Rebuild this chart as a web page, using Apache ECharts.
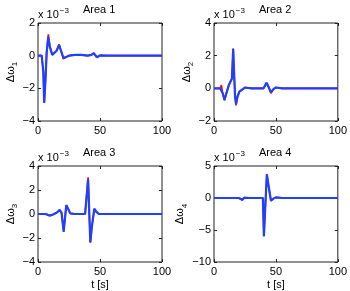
<!DOCTYPE html>
<html><head><meta charset="utf-8">
<script src="https://cdn.jsdelivr.net/npm/echarts@6/dist/echarts.min.js"></script>
<style>html,body{margin:0;padding:0;background:#fff}#c{width:350px;height:291px}</style>
</head><body><div id="c"></div>
<script>
// values in units of 1e-3
var titles = ['Area 1', 'Area 2', 'Area 3', 'Area 4'];
var ySubs = ['1', '2', '3', '4'];
var yMins = [-4, -2, -4, -10];
var yMaxs = [2, 4, 4, 5];
var yIntervals = [2, 2, 2, 5];
var xTicks = [0, 50, 100];

var t1 = [0, 3, 4.3, 5, 6, 7, 8.3, 9.5, 11.5, 13, 15, 17, 18, 19.5, 20.5, 22, 25, 30, 35, 40, 43, 45, 47.5, 50, 55, 100];
var blue1 = [0, 0, -1.0, -2.9, -1.5, 0.2, 1.15, 0.55, 0.05, 0.1, 0.3, 0.65, 0.6, 0.1, -0.15, -0.1, 0.0, 0.05, 0.05, 0.0, 0.05, 0.15, -0.1, 0.02, 0, 0];
var red1 = [0, 0, -1.0, -2.85, -1.5, 0.25, 1.3, 0.6, 0.05, 0.1, 0.3, 0.7, 0.6, 0.05, -0.2, -0.1, 0.0, 0.05, 0.05, 0.0, 0.05, 0.15, -0.1, 0.02, 0, 0];

var t2 = [0, 5, 6, 7, 8.5, 10, 12, 13.5, 14.5, 15.5, 16, 17, 17.8, 19, 20.5, 22, 25, 30, 35, 40, 42.5, 44, 46, 48, 50, 55, 100];
var blue2 = [0, 0, 0.05, -0.3, -0.7, -0.3, 0.2, 0.1, 0.6, 2.4, 1.4, -0.5, -0.95, -0.5, -0.2, -0.1, 0.05, 0.0, 0.0, 0.0, 0.35, 0.1, -0.25, -0.05, 0.05, 0, 0];
var red2 = [0, 0, 0.2, -0.3, -0.75, -0.3, 0.2, 0.1, 0.6, 2.45, 1.4, -0.5, -1.05, -0.5, -0.2, -0.1, 0.05, 0.0, 0.0, 0.0, 0.3, 0.1, -0.3, -0.05, 0.05, 0, 0];

var t3 = [0, 6, 7.5, 9.5, 12, 15, 17.5, 19, 20.7, 22.8, 24, 26, 30, 38, 39.5, 40.4, 41.3, 42.2, 43.5, 45.4, 47, 49, 55, 100];
var blue3 = [0, 0, 0.05, -0.15, -0.05, 0.1, 0.35, 0.1, -1.5, 0.75, 0.5, 0.05, 0, 0, 0, 2.9, 0.2, -2.35, -1.0, 0.45, 0.2, 0, 0, 0];
var red3 = [0, 0, 0.15, -0.1, -0.05, 0.1, 0.3, 0.1, -1.4, 0.7, 0.5, 0.05, 0, 0, 0, 3.05, 0.2, -2.4, -1.0, 0.3, 0.2, 0, 0, 0];

var t4 = [0, 15, 20, 22.8, 24.5, 26, 28, 35, 39.5, 40.3, 41.5, 42.7, 44, 46, 48, 50, 55, 100];
var blue4 = [0, 0, 0, -0.25, 0.05, 0.1, 0, 0, 0, -6.0, -1.0, 3.7, 2.0, -0.4, -0.1, 0.1, 0, 0];
var red4 = [0, 0, 0, -0.35, 0.0, 0.1, 0, 0, 0, -5.9, -1.0, 3.75, 2.0, -0.45, -0.1, 0.1, 0, 0];

var times = [t1, t2, t3, t4];
var blues = [blue1, blue2, blue3, blue4];
var reds = [red1, red2, red3, red4];

var grids = [
  {left: 38, top: 23, width: 124, height: 98},
  {left: 214, top: 23, width: 124, height: 98},
  {left: 38, top: 166, width: 124, height: 97},
  {left: 214, top: 166, width: 124, height: 97}
];
var FONT = 'Liberation Sans, Arial, sans-serif';
function pairs(t, v) { return t.map(function (x, i) { return [x, v[i]]; }); }
function minusFmt(v) { return String(v).replace('-', '\u2212'); }
var tickStyle = {show: true, inside: true, length: 3, lineStyle: {color: '#222'}};
var noLine = {show: false, onZero: false};

var xAxes = [], yAxes = [], series = [], graphics = [];
grids.forEach(function (g, i) {
  g.show = true; g.borderColor = '#222'; g.borderWidth = 1; g.containLabel = false;
  var bottom = i >= 2;
  xAxes.push({
    gridIndex: i, type: 'value', position: 'bottom', min: xTicks[0], max: xTicks[2], interval: xTicks[1] - xTicks[0],
    axisLine: noLine, splitLine: {show: false}, axisTick: tickStyle,
    axisLabel: {color: '#000', fontSize: 11, fontFamily: FONT, margin: 4, formatter: minusFmt},
    name: bottom ? 't [s]' : '', nameLocation: 'middle', nameGap: 17,
    nameTextStyle: {color: '#000', fontSize: 11, fontFamily: FONT}
  });
  yAxes.push({
    gridIndex: i, type: 'value', position: 'left', min: yMins[i], max: yMaxs[i], interval: yIntervals[i],
    axisLine: noLine, splitLine: {show: false}, axisTick: tickStyle,
    axisLabel: {color: '#000', fontSize: 11, fontFamily: FONT, margin: 3, formatter: minusFmt},
    name: '{a|\u0394\u03c9}{s|' + ySubs[i] + '}', nameLocation: 'middle', nameGap: i === 3 ? 21 : 17,
    nameTextStyle: {color: '#000', fontFamily: FONT,
      rich: {a: {fontSize: 11, fontFamily: FONT, color: '#000', lineHeight: 14},
             s: {fontSize: 8, fontFamily: FONT, color: '#000', lineHeight: 14, padding: [8, 0, 0, 0]}}}
  });
  series.push({
    type: 'line', xAxisIndex: i, yAxisIndex: i, data: pairs(times[i], reds[i]),
    showSymbol: false, lineStyle: {color: '#ff0000', width: 1.6}, z: 2, animation: false
  });
  series.push({
    type: 'line', xAxisIndex: i, yAxisIndex: i, data: pairs(times[i], blues[i]),
    showSymbol: false, lineStyle: {color: '#2040ff', width: 2.2}, z: 3, animation: false
  });
  graphics.push({
    type: 'text', left: g.left + g.width / 2 - 17, top: g.top - 19,
    style: {text: titles[i], fontSize: 11, fontFamily: FONT, fill: '#000'}
  });
  graphics.push({
    type: 'text', left: g.left, top: g.top - 16,
    style: {text: '{b|x 10}{p|\u22123}', fontFamily: FONT, fill: '#000',
      rich: {b: {fontSize: 11, fontFamily: FONT, lineHeight: 14},
             p: {fontSize: 8, fontFamily: FONT, lineHeight: 14, padding: [0, 0, 8, 1]}}}
  });
});
// mirrored tick marks on top and right edges (MATLAB box)
grids.forEach(function (g, i) {
  xAxes.push({
    gridIndex: i, type: 'value', position: 'top', min: xTicks[0], max: xTicks[2], interval: xTicks[1] - xTicks[0],
    axisLine: noLine, splitLine: {show: false}, axisTick: tickStyle, axisLabel: {show: false}
  });
  yAxes.push({
    gridIndex: i, type: 'value', position: 'right', min: yMins[i], max: yMaxs[i], interval: yIntervals[i],
    axisLine: noLine, splitLine: {show: false}, axisTick: tickStyle, axisLabel: {show: false}
  });
});

var chart = echarts.init(document.getElementById('c'), null, {renderer: 'canvas'});
chart.setOption({
  animation: false,
  backgroundColor: '#fff',
  grid: grids, xAxis: xAxes, yAxis: yAxes, series: series, graphic: graphics
});
</script></body></html>
